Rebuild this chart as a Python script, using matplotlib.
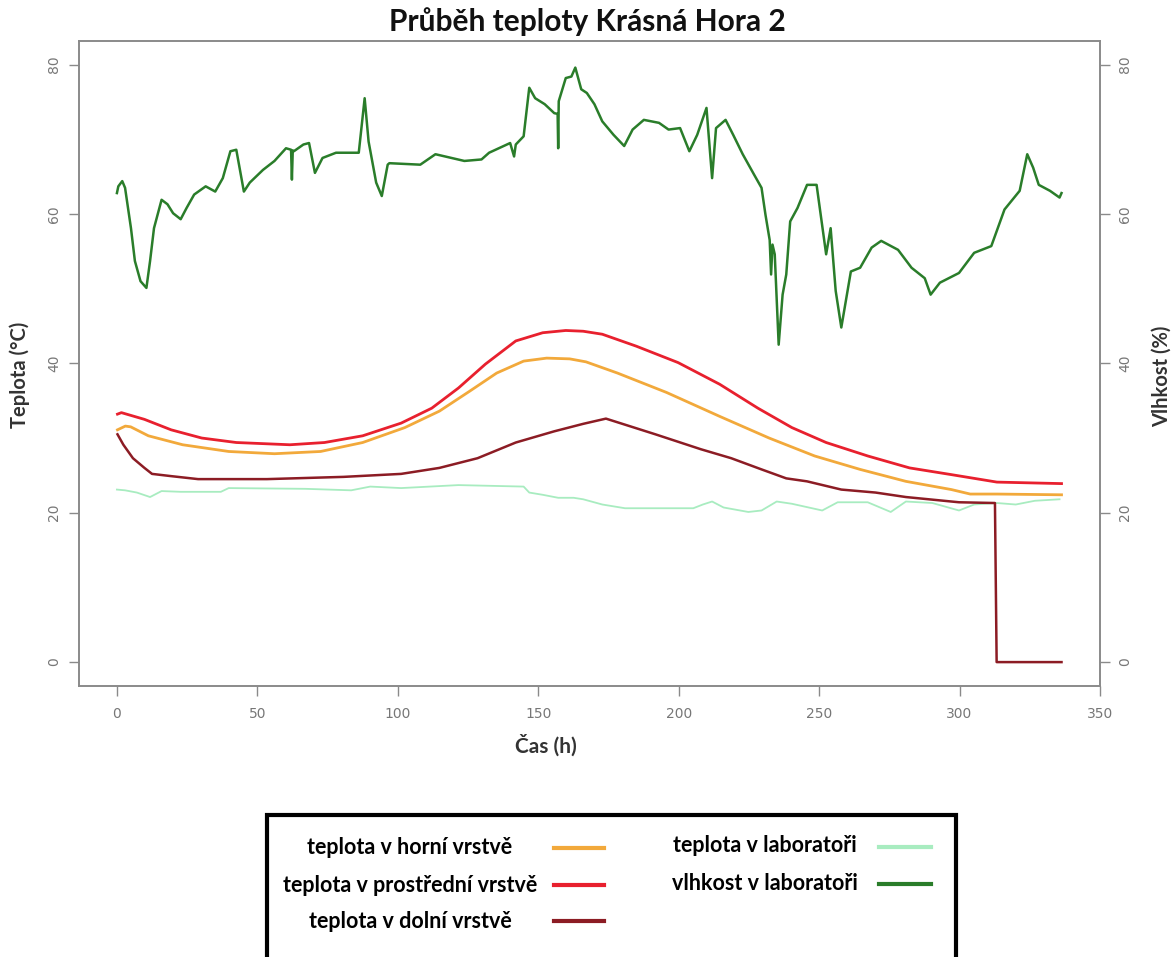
import matplotlib.pyplot as plt
from matplotlib.patches import Rectangle
from matplotlib.lines import Line2D
import numpy as np

W, H = 1174, 957

# --- data (hours, values) ---
hum_t = [0, 0.5, 1.9, 2.9, 5, 6.4, 8.4, 10.5, 11.8, 13.2, 15.9, 18, 20, 22.7, 24.8, 27.5,
         31.6, 35, 37.7, 40.4, 42.5, 45.2, 47.3, 52, 56.1, 60.2, 62.0, 62.3, 62.6, 63, 66.4,
         68.4, 70.5, 73.2, 78, 86.1, 88.2, 89.6, 92.3, 94.3, 96.4, 97, 108, 113.4, 123.7,
         129.8, 132.5, 140, 141.4, 142, 144.8, 146.8, 148.9, 152.3, 155.7, 156.9, 157.1,
         157.3, 159.8, 161.8, 163.2, 165.3, 167.3, 170, 172.8, 176.8, 180.6, 183.6, 187.6,
         193, 196.4, 200.5, 203.8, 206.6, 209.9, 211.9, 213.3, 216.7, 219.4, 222.8, 226.8,
         229.5, 230.9, 232.4, 232.9, 233.4, 234.2, 235.6, 237, 238.3, 239.7, 242.3, 245.7,
         249.1, 252.5, 254.1, 255.9, 257.9, 261.3, 264.6, 268.7, 272.1, 278.1, 282.9, 287.6,
         289.7, 293, 299.8, 305.2, 311.3, 316, 321.4, 324.1, 326.2, 328.2, 332.2, 335.6, 336.3]
hum_v = [62.8, 63.7, 64.4, 63.5, 58.1, 53.7, 51, 50.1, 53.7, 58.1, 61.9, 61.3, 60.1, 59.3,
         60.8, 62.6, 63.7, 63, 64.8, 68.4, 68.6, 63, 64.2, 65.9, 67.1, 68.8, 68.6, 64.6, 68.5,
         68.4, 69.3, 69.5, 65.5, 67.5, 68.2, 68.2, 75.5, 69.7, 64.2, 62.4, 66.6, 66.8, 66.6,
         68, 67.1, 67.3, 68.2, 69.5, 67.7, 69.3, 70.4, 76.9, 75.5, 74.7, 73.5, 73.4, 68.8,
         75.1, 78.2, 78.4, 79.6, 76.7, 76.2, 74.7, 72.4, 70.6, 69.1, 71.3, 72.6, 72.2, 71.3,
         71.5, 68.4, 70.6, 74.2, 64.8, 71.5, 72.6, 70.6, 68, 65.3, 63.5, 59.9, 56.5, 51.9,
         55.9, 54.6, 42.5, 49.2, 51.9, 59, 60.8, 63.9, 63.9, 54.6, 58.1, 49.7, 44.8, 52.3,
         52.8, 55.5, 56.4, 55.2, 52.8, 51.4, 49.2, 50.8, 52.1, 54.8, 55.7, 60.6, 63.1, 68,
         66.2, 63.9, 63.1, 62.2, 62.8]

mid_t = [0.2, 1.6, 9.8, 19.3, 30.2, 42.5, 61.6, 73.9, 87.5, 101.2, 112.1, 121.6, 131.2, 142,
         151.6, 159.8, 166, 172.8, 184.9, 199.8, 214.6, 228.2, 240.3, 252.5, 267.3, 282.2,
         297.1, 313.3, 336.3]
mid_v = [33.2, 33.4, 32.5, 31.1, 30, 29.4, 29.1, 29.4, 30.3, 32, 34, 36.7, 39.9, 43, 44.1,
         44.4, 44.3, 43.9, 42.3, 40.1, 37.2, 34, 31.4, 29.4, 27.6, 26, 25.1, 24.1, 23.9]

top_t = [0.2, 3, 4.9, 11.2, 23.4, 39.8, 56.1, 72.5, 87.5, 102.5, 114.8, 125.7, 135.2, 144.8,
         153, 161.2, 167, 178.2, 195.7, 214.6, 232.2, 248.4, 264.6, 280.9, 297.1, 303.8,
         313.3, 336.3]
top_v = [31.1, 31.6, 31.5, 30.3, 29.1, 28.2, 27.9, 28.2, 29.4, 31.4, 33.6, 36.3, 38.7, 40.3,
         40.7, 40.6, 40.2, 38.7, 36.1, 32.9, 30, 27.6, 25.8, 24.2, 23.1, 22.5, 22.5, 22.4]

low_t = [0.2, 2.3, 5.7, 9.8, 12.5, 19.3, 28.9, 53.4, 80.7, 101.2, 114.8, 128.4, 142, 155.7,
         166, 174.1, 191.7, 207.9, 218.7, 229.5, 238.3, 245.7, 257.9, 270.1, 280.9, 299.8,
         312.6, 313.2, 336.3]
low_v = [30.5, 29.1, 27.3, 26, 25.2, 24.9, 24.5, 24.5, 24.8, 25.2, 26, 27.3, 29.4, 30.9,
         31.9, 32.6, 30.5, 28.5, 27.3, 25.8, 24.6, 24.2, 23.1, 22.7, 22.1, 21.4, 21.3, 0, 0]

lab_t = [0, 2.9, 7.1, 11.8, 15.9, 22.7, 37, 39.8, 67.1, 83.4, 90.2, 101.2, 121.6, 144.8,
         146.8, 151.6, 157.1, 162.6, 166, 172.8, 180.9, 205.2, 208.6, 211.9, 216, 224.8,
         229.5, 234.9, 240.3, 251.1, 256.6, 267.3, 275.5, 280.9, 290.3, 299.8, 305.2, 313.3,
         320, 326.8, 335.6]
lab_v = [23.1, 23, 22.7, 22.1, 22.9, 22.8, 22.8, 23.3, 23.2, 23, 23.5, 23.3, 23.7, 23.5,
         22.7, 22.4, 22, 22, 21.8, 21.1, 20.6, 20.6, 21.1, 21.5, 20.7, 20.1, 20.3, 21.5,
         21.2, 20.3, 21.4, 21.4, 20.1, 21.5, 21.3, 20.3, 21.1, 21.3, 21.1, 21.6, 21.8]

x_ticks = [0, 50, 100, 150, 200, 250, 300, 350]
y_ticks = [0, 20, 40, 60, 80]

c_top = '#f2a93b'
c_mid = '#e8202e'
c_low = '#8c1c24'
c_lab = '#a8ecc0'
c_hum = '#2a7d2a'

legend_left = [('teplota v horní vrstvě', c_top),
               ('teplota v prostřední vrstvě', c_mid),
               ('teplota v dolní vrstvě', c_low)]
legend_right = [('teplota v laboratoři', c_lab),
                ('vlhkost v laboratoři', c_hum)]

fnt = ['Lato', 'DejaVu Sans']

fig = plt.figure(figsize=(W / 100, H / 100), dpi=100)
ax = fig.add_axes([79 / W, 1 - 686 / H, (1100 - 79) / W, (686 - 40.7) / H])

ax.plot(lab_t, lab_v, color=c_lab, lw=1.3)
ax.plot(low_t, low_v, color=c_low, lw=1.8)
ax.plot(top_t, top_v, color=c_top, lw=2)
ax.plot(mid_t, mid_v, color=c_mid, lw=2)

ax.set_xlim(-13.5, 349.5)
ax.set_ylim(-3.2, 83.2)
ax.set_xticks(x_ticks)
ax.set_yticks(y_ticks)

ax2 = ax.twinx()
ax2.plot(hum_t, hum_v, color=c_hum, lw=1.8)
ax2.set_ylim(-3.2, 83.2)
ax2.set_yticks(y_ticks)

for a in (ax, ax2):
    for s in a.spines.values():
        s.set_color('#8a8a8a')
        s.set_linewidth(1.2)
    a.tick_params(colors='#8a8a8a', labelcolor='#777777', labelsize=10, length=7, width=1)
ax.tick_params(axis='y', labelrotation=90, pad=6)
ax2.tick_params(axis='y', labelrotation=90, pad=6)
for lab in ax.get_yticklabels() + ax2.get_yticklabels():
    lab.set_va('center')
ax.tick_params(axis='x', pad=8)

fig.text(587 / W, 1 - 22 / H, 'Průběh teploty Krásná Hora 2', ha='center', va='center',
         fontsize=21.5, fontweight='bold', family=fnt, color='#111111')
fig.text(546 / W, 1 - 745 / H, 'Čas (h)', ha='center', va='center', fontsize=15,
         fontweight='bold', family=fnt, color='#333333')
fig.text(20 / W, 1 - 375 / H, 'Teplota (°C)', ha='center', va='center', rotation=90,
         fontsize=14.5, fontweight='bold', family=fnt, color='#333333')
fig.text(1162 / W, 1 - 376 / H, 'Vlhkost (%)', ha='center', va='center', rotation=90,
         fontsize=14.5, fontweight='bold', family=fnt, color='#333333')

# hand-built legend box at the bottom
fig.patches.append(Rectangle((267 / W, -0.05), (956 - 267) / W, 0.05 + 1 - 815 / H,
                             transform=fig.transFigure, fill=False, edgecolor='black',
                             lw=3, clip_on=False))
rows = [848, 885, 921]
for (txt, col), yp in zip(legend_left, rows):
    fig.text(410 / W, 1 - yp / H, txt, ha='center', va='center', fontsize=15.5,
             fontweight='bold', family=fnt, color='black')
    fig.lines.append(Line2D([554 / W, 604 / W], [1 - yp / H] * 2, color=col, lw=3,
                            transform=fig.transFigure))
for (txt, col), yp in zip(legend_right, rows[:2]):
    fig.text(765 / W, 1 - (yp - 2) / H, txt, ha='center', va='center', fontsize=15.5,
             fontweight='bold', family=fnt, color='black')
    fig.lines.append(Line2D([879 / W, 931 / W], [1 - (yp - 1) / H] * 2, color=col, lw=3,
                            transform=fig.transFigure))

plt.savefig('out.png', dpi=100)
